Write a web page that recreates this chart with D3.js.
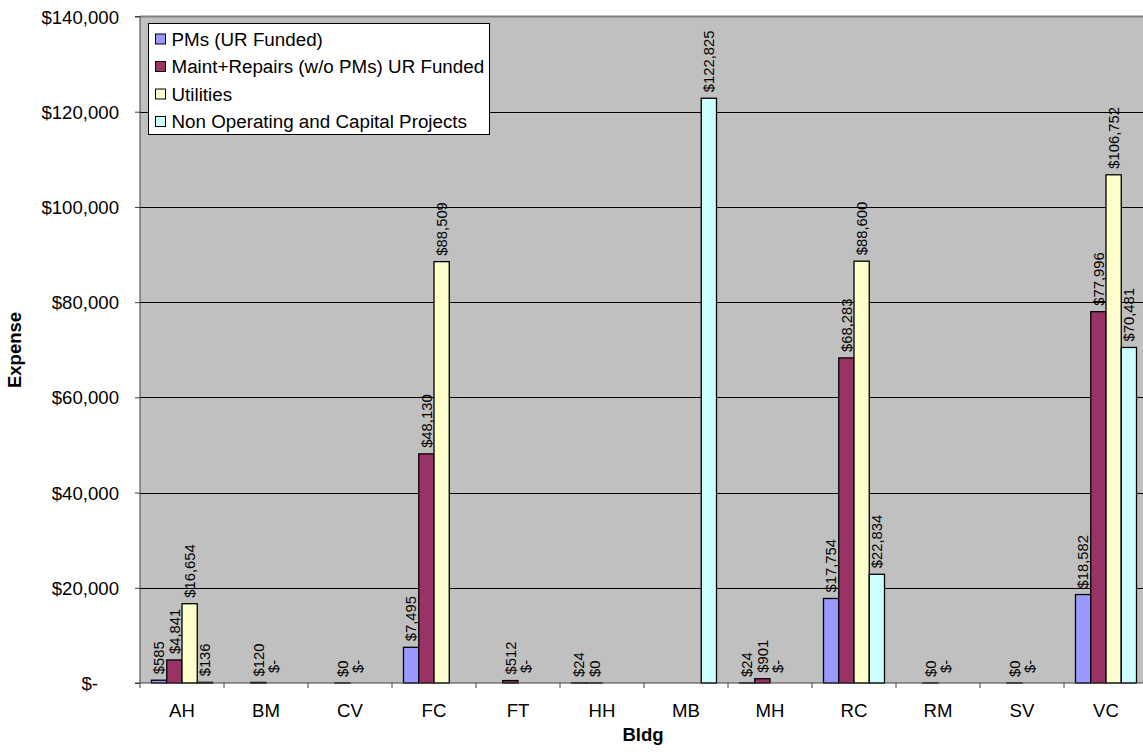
<!DOCTYPE html>
<html>
<head>
<meta charset="utf-8">
<script src="https://cdn.jsdelivr.net/npm/d3@7"></script>
<style>
  html, body { margin: 0; padding: 0; background: #fff; }
  svg { display: block; font-family: "Liberation Sans", Arial, sans-serif; }
</style>
</head>
<body>
<svg id="chart" width="1143" height="755"></svg>
<script>
// ---- Data ----
const categories = ["AH","BM","CV","FC","FT","HH","MB","MH","RC","RM","SV","VC"];
const seriesNames = ["PMs (UR Funded)", "Maint+Repairs (w/o PMs) UR Funded", "Utilities", "Non Operating and Capital Projects"];
// null = no label/bar; 0 = "$-"; 0.4 = tiny value shown as "$0"
const pmsValues     = [585, null, null, 7495, null, 24, null, 24, 17754, null, null, 18582];
const maintValues   = [4841, 120, 0.4, 48130, 512, 0.4, null, 901, 68283, 0.4, 0.4, 77996];
const utilValues    = [16654, 0, 0, 88509, 0, null, null, 0, 88600, 0, 0, 106752];
const nonOpValues   = [136, null, null, null, null, null, 122825, null, 22834, null, null, 70481];
const yTicks = [0, 20000, 40000, 60000, 80000, 100000, 120000, 140000];
const seriesColors = ["#9999FF", "#993366", "#FFFFCC", "#CCFFFF"];

const seriesValues = [pmsValues, maintValues, utilValues, nonOpValues];

// ---- Layout ----
const svg = d3.select("#chart");
const plot = {left: 140, right: 1148, top: 16.5, bottom: 683};

const x0 = d3.scaleBand().domain(categories).range([plot.left, plot.right]).paddingInner(0).paddingOuter(0);
const x1 = d3.scaleBand().domain(d3.range(seriesNames.length)).range([11.5, x0.bandwidth() - 11.5]).padding(0);
const y = d3.scaleLinear().domain([0, 140000]).range([plot.bottom, plot.top]);

const fmtMoney = v => v === 0 ? "$-" : "$" + d3.format(",.0f")(v);

// plot background
svg.append("rect")
  .attr("x", plot.left).attr("y", plot.top)
  .attr("width", plot.right - plot.left).attr("height", plot.bottom - plot.top)
  .attr("fill", "#C0C0C0");

// gridlines
svg.append("g").selectAll("line")
  .data(yTicks.filter(t => t > 0 && t < 140000))
  .join("line")
  .attr("x1", plot.left).attr("x2", plot.right)
  .attr("y1", d => Math.round(y(d)) + 0.5).attr("y2", d => Math.round(y(d)) + 0.5)
  .attr("stroke", "#000").attr("stroke-width", 1);

// top border
svg.append("line")
  .attr("x1", plot.left).attr("x2", plot.right)
  .attr("y1", plot.top).attr("y2", plot.top)
  .attr("stroke", "#808080").attr("stroke-width", 2);

// bars
const barData = [];
categories.forEach((c, i) => {
  seriesValues.forEach((vals, s) => {
    const v = vals[i];
    if (v !== null && v !== undefined) barData.push({c, s, v});
  });
});

svg.append("g").selectAll("rect")
  .data(barData)
  .join("rect")
  .attr("x", d => x0(d.c) + x1(d.s))
  .attr("y", d => y(d.v))
  .attr("width", x1.bandwidth())
  .attr("height", d => y(0) - y(d.v))
  .attr("fill", d => seriesColors[d.s])
  .attr("stroke", "#000")
  .attr("stroke-width", 1.3);

// data labels
svg.append("g").selectAll("text")
  .data(barData)
  .join("text")
  .attr("transform", d => {
    const cx = x0(d.c) + x1(d.s) + x1.bandwidth() / 2;
    const off = d.v === 0 ? 10 : 6;
    return `translate(${cx},${y(d.v) - off}) rotate(-90)`;
  })
  .attr("dy", "0.35em")
  .attr("text-anchor", "start")
  .attr("font-size", 14.8)
  .attr("fill", "#000")
  .text(d => fmtMoney(d.v));

// y axis
const yAxis = d3.axisLeft(y).tickValues(yTicks).tickSize(5).tickPadding(0)
  .tickFormat(d => "");
const gy = svg.append("g").attr("transform", `translate(${plot.left},0)`).call(yAxis);
gy.select(".domain").attr("stroke", "#404040").attr("d", `M-5,${plot.top}H0V${plot.bottom + 5}`);
gy.selectAll(".tick line").attr("stroke", "#404040");
gy.selectAll(".tick").append("text")
  .attr("x", d => d === 0 ? -42 : -21)
  .attr("dy", "0.35em")
  .attr("text-anchor", "end")
  .attr("fill", "#000")
  .attr("font-size", 18.6)
  .text(d => fmtMoney(d));

// x axis
const gx = svg.append("g").attr("transform", `translate(0,${plot.bottom})`);
gx.append("line").attr("x1", plot.left - 5).attr("x2", plot.right)
  .attr("y1", 0).attr("y2", 0).attr("stroke", "#404040");
gx.selectAll("line.tk")
  .data(categories.slice(1))
  .join("line")
  .attr("class", "tk")
  .attr("x1", d => x0(d)).attr("x2", d => x0(d))
  .attr("y1", 0).attr("y2", 5).attr("stroke", "#404040");
gx.selectAll("text")
  .data(categories)
  .join("text")
  .attr("x", d => x0(d) + x0.bandwidth() / 2)
  .attr("y", 34)
  .attr("text-anchor", "middle")
  .attr("font-size", 18.6)
  .attr("fill", "#000")
  .text(d => d);

// axis titles
svg.append("text")
  .attr("transform", "translate(21,350) rotate(-90)")
  .attr("text-anchor", "middle")
  .attr("font-size", 18.5).attr("font-weight", "bold")
  .text("Expense");
svg.append("text")
  .attr("x", 643).attr("y", 741)
  .attr("text-anchor", "middle")
  .attr("font-size", 18.5).attr("font-weight", "bold")
  .text("Bldg");

// legend
const lg = svg.append("g");
lg.append("rect")
  .attr("x", 148.5).attr("y", 23.5).attr("width", 341).attr("height", 111)
  .attr("fill", "#fff").attr("stroke", "#000").attr("stroke-width", 1);
const rows = lg.selectAll("g.row").data(seriesNames).join("g")
  .attr("class", "row")
  .attr("transform", (d, i) => `translate(0,${39 + i * 27.5})`);
rows.append("rect")
  .attr("x", 155.5).attr("y", -5).attr("width", 10).attr("height", 10)
  .attr("fill", (d, i) => seriesColors[i]).attr("stroke", "#000").attr("stroke-width", 1);
rows.append("text")
  .attr("x", 171.5).attr("dy", "0.35em")
  .attr("font-size", 18.8)
  .text(d => d);
</script>
</body>
</html>
